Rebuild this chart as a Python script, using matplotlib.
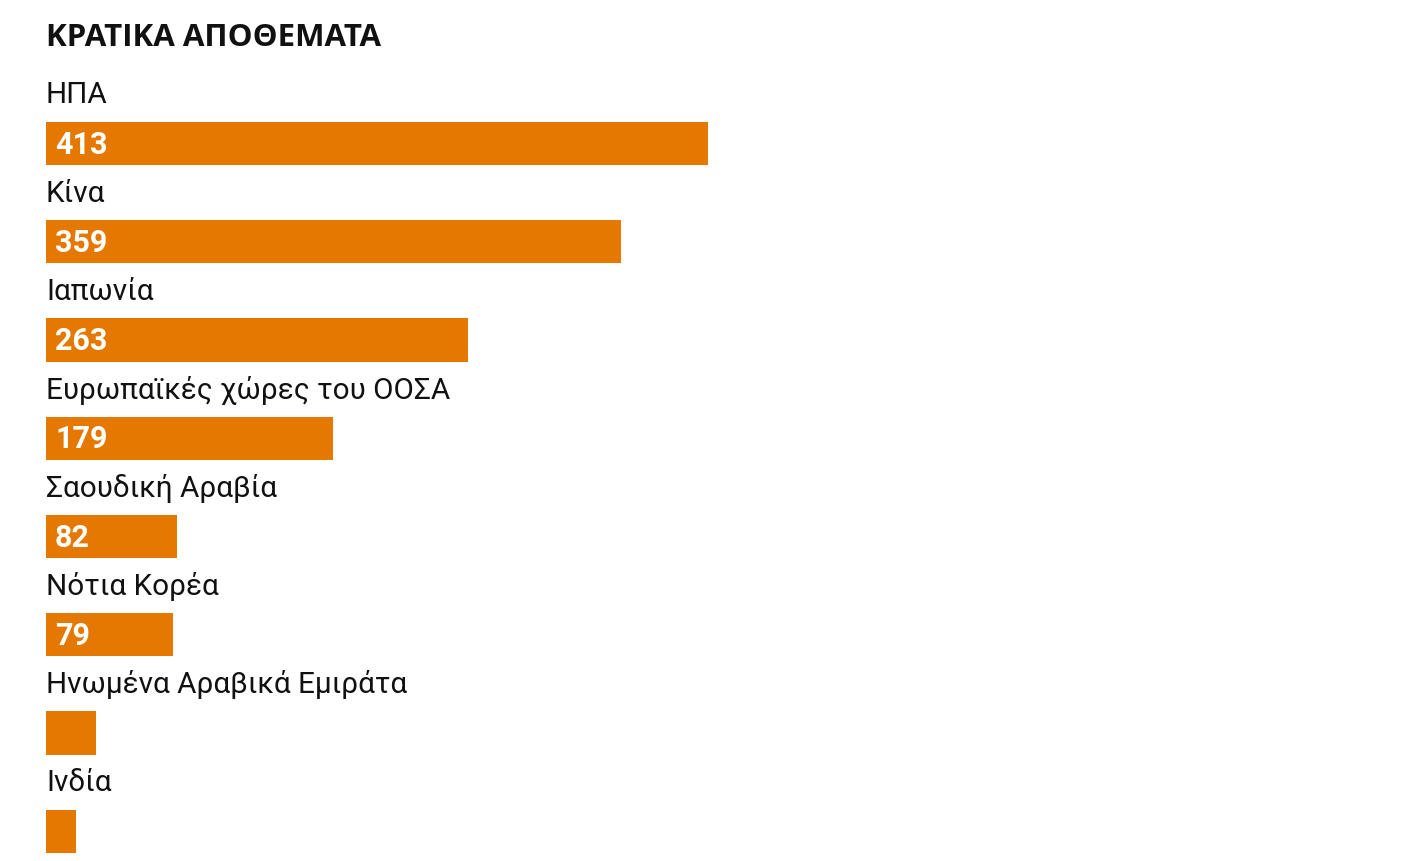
import matplotlib
matplotlib.use("Agg")
import matplotlib.pyplot as plt

title = "ΚΡΑΤΙΚΑ ΑΠΟΘΕΜΑΤΑ"
categories = ["ΗΠΑ", "Κίνα", "Ιαπωνία", "Ευρωπαϊκές χώρες του ΟΟΣΑ",
              "Σαουδική Αραβία", "Νότια Κορέα", "Ηνωμένα Αραβικά Εμιράτα", "Ινδία"]
values = [413, 359, 263, 179, 82, 79, 31, 19]
value_labels = ["413", "359", "263", "179", "82", "79", "", ""]

plt.rcParams['font.family'] = ['Roboto', 'DejaVu Sans']

W, H = 1404, 862
fig = plt.figure(figsize=(W / 100, H / 100), dpi=100)
fig.patch.set_facecolor('white')

px_per_unit = 1.603
left_px = 46
ax = fig.add_axes([left_px / W, 0, 1 - left_px / W, 1])
ax.set_xlim(0, (W - left_px) / px_per_unit)
step = 98.26
top_c = 144.5
ax.set_ylim(7 + (H - (top_c + 7 * step)) / step, -top_c / step)
ax.axis('off')

color = '#E47800'
ys = list(range(len(categories)))
ax.barh(ys, values, height=0.44, color=color, align='center')

for y, cat, lab in zip(ys, categories, value_labels):
    ax.text(0, y - 0.5, cat, fontsize=21.3, color='#111111', va='center', ha='left')
    if lab:
        ax.annotate(lab, xy=(0, y), xytext=(9, 0), textcoords='offset pixels',
                    fontsize=22, fontweight='bold', color='white', va='center', ha='left')

fig.text(left_px / W, 1 - 38 / H, title, fontsize=22.5, fontweight='bold',
         family=['Open Sans', 'DejaVu Sans'],
         color='#111111', va='center', ha='left')

fig.savefig('out.png', dpi=100, facecolor='white')
